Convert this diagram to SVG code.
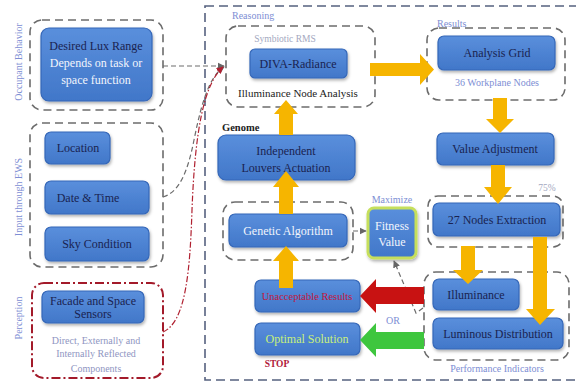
<svg xmlns="http://www.w3.org/2000/svg" width="576" height="383" viewBox="0 0 576 383">
<defs>
<linearGradient id="nodeFill" x1="0" y1="0" x2="0" y2="1">
<stop offset="0" stop-color="#5a8fdc"/>
<stop offset="1" stop-color="#4177c9"/>
</linearGradient>
<filter id="sh" x="-10%" y="-10%" width="125%" height="135%">
<feDropShadow dx="1" dy="2" stdDeviation="1.5" flood-color="#000" flood-opacity="0.3"/>
</filter>
<marker id="ah" viewBox="0 0 10 10" refX="9" refY="5" markerWidth="6" markerHeight="6" orient="auto">
<path d="M0,0 L10,5 L0,10 z" fill="#666"/>
</marker>
<marker id="ahr" viewBox="0 0 10 10" refX="9" refY="5" markerWidth="6" markerHeight="6" orient="auto">
<path d="M0,0 L10,5 L0,10 z" fill="#b02030"/>
</marker>
<style>
text{font-family:"Liberation Serif","DejaVu Serif",serif;text-anchor:middle}
.node{fill:url(#nodeFill);stroke:#3567b8;stroke-width:1.2;filter:url(#sh)}
.grp{fill:none;stroke:#6c6c6c;stroke-width:1.6;stroke-dasharray:8 5}
.red{fill:none;stroke:#a31a2a;stroke-width:2;stroke-dasharray:9 3 2 3}
.nt{fill:#1a2350;font-size:12px}
.wt{fill:#f2f5fc;font-size:12px}
.lb{fill:#7d8ed4;font-size:10px}
.gl{fill:#a3a8c0;font-size:9.5px}
.dk{fill:#222;font-size:11px}
.yel{fill:#f6b500}
.con{fill:none;stroke:#6c6c6c;stroke-width:1.2;stroke-dasharray:5 3}
</style>
</defs>
<rect width="576" height="383" fill="#ffffff"/>

<!-- outer frame -->
<rect x="205" y="6" width="390" height="374" fill="none" stroke="#56617f" stroke-width="1.6" stroke-dasharray="9 5"/>

<!-- vertical labels -->
<text class="lb" transform="translate(22,62) rotate(-90)" font-size="9.5">Occupant Behavior</text>
<text class="lb" transform="translate(22,197) rotate(-90)">Input through EWS</text>
<text class="lb" transform="translate(22,318) rotate(-90)">Perception</text>

<!-- Group: Occupant Behavior -->
<g id="occupant">
<rect class="grp" x="30" y="20" width="133" height="90" rx="12"/>
<rect class="node" x="41" y="28" width="111" height="73" rx="8"/>
<text class="nt" x="96" y="50" font-size="11.5">Desired Lux Range</text>
<text class="wt" x="96" y="67" font-size="11.5">Depends on task or</text>
<text class="wt" x="96" y="84" font-size="11.5">space function</text>
</g>

<!-- Group: Input -->
<g id="input">
<rect class="grp" x="30" y="123" width="133" height="144" rx="12"/>
<g id="location"><rect class="node" x="45" y="132" width="65" height="32" rx="6"/><text class="nt" x="78" y="152" font-size="11">Location</text></g>
<g id="datetime"><rect class="node" x="45" y="181" width="104" height="33" rx="6"/><text class="nt" x="88" y="202" font-size="11.5">Date &amp; Time</text></g>
<g id="sky"><rect class="node" x="45" y="227" width="104" height="34" rx="6"/><text class="nt" x="97" y="248" font-size="11.5">Sky Condition</text></g>
</g>

<!-- Group: Perception -->
<g id="perception">
<rect class="red" x="32" y="283" width="131" height="95" rx="12"/>
<rect class="node" x="42" y="291" width="102" height="32" rx="6"/>
<text class="nt" x="93" y="305" font-size="10.5">Facade and Space</text>
<text class="nt" x="93" y="318" font-size="10.5">Sensors</text>
<text x="96" y="344" font-size="10" fill="#8f96c2">Direct, Externally and</text>
<text x="96" y="357" font-size="10" fill="#8f96c2">Internally Reflected</text>
<text x="96" y="372" font-size="10" fill="#8f96c2">Components</text>
</g>

<!-- Reasoning -->
<text class="lb" x="232" y="19" style="text-anchor:start">Reasoning</text>
<g id="symbiotic">
<rect class="grp" x="226" y="26" width="149" height="81" rx="12"/>
<text class="gl" x="285" y="42">Symbiotic RMS</text>
<rect class="node" x="250" y="49" width="97" height="29" rx="5"/>
<text class="nt" x="298" y="68">DIVA-Radiance</text>
<text class="dk" x="298" y="97">Illuminance Node Analysis</text>
</g>

<!-- Results -->
<g id="results">
<rect class="grp" x="427" y="28" width="138" height="72" rx="12"/>
<text class="lb" x="437" y="27" font-size="9.5" style="text-anchor:start">Results</text>
<rect class="node" x="438" y="36" width="117" height="34" rx="6"/>
<text class="nt" x="497" y="57">Analysis Grid</text>
<text class="lb" x="497" y="86" font-size="11">36 Workplane Nodes</text>
</g>

<g id="value"><rect class="node" x="437" y="133" width="117" height="32" rx="6"/><text class="nt" x="495" y="153" font-size="12.5">Value Adjustment</text></g>

<text class="gl" x="547" y="191" font-size="10">75%</text>
<g id="extraction">
<rect class="grp" x="428" y="196" width="135" height="51" rx="10"/>
<rect class="node" x="433" y="203" width="127" height="33" rx="6"/>
<text class="nt" x="497" y="224" font-size="12.5">27 Nodes Extraction</text>
</g>

<g id="performance">
<rect class="grp" x="424" y="272" width="145" height="88" rx="12"/>
<rect class="node" x="433" y="279" width="86" height="31" rx="6"/>
<text class="nt" x="476" y="299">Illuminance</text>
<rect class="node" x="433" y="318" width="130" height="31" rx="6"/>
<text class="nt" x="498" y="338">Luminous Distribution</text>
<text class="lb" x="497" y="372">Performance Indicators</text>
</g>

<g id="louvers">
<text x="222" y="131" font-size="10.5" fill="#222" font-weight="bold" style="text-anchor:start">Genome</text>
<rect class="node" x="218" y="135" width="137" height="45" rx="8"/>
<text class="nt" x="286" y="155" font-size="13">Independent</text>
<text class="nt" x="286" y="172" font-size="13">Louvers Actuation</text>
</g>

<g id="genetic">
<rect class="grp" x="223" y="202" width="130" height="58" rx="12"/>
<rect class="node" x="229" y="214" width="118" height="33" rx="6"/>
<text class="wt" x="288" y="235" font-size="12.5">Genetic Algorithm</text>
</g>

<g id="fitness">
<text class="lb" x="392" y="203">Maximize</text>
<rect x="368" y="208" width="48" height="50" rx="6" fill="url(#nodeFill)" stroke="#c6df5c" stroke-width="3" filter="url(#sh)"/>
<text class="wt" x="392" y="230" font-size="11.5">Fitness</text>
<text class="wt" x="392" y="246" font-size="11.5">Value</text>
</g>

<g id="unacceptable"><rect class="node" x="255" y="280" width="105" height="32" rx="6"/><text x="307" y="300" font-size="10.5" fill="#c3183c">Unacceptable Results</text></g>
<g id="optimal"><rect class="node" x="255" y="323" width="105" height="32" rx="6"/><text x="307" y="343" font-size="12" fill="#c9f07a">Optimal Solution</text>
<text x="277" y="367" font-size="9.5" font-weight="bold" fill="#b01838">STOP</text></g>

<text class="lb" x="393" y="324">OR</text>

<!-- connectors -->
<g id="connectors">
<path class="con" d="M163,66 L224,66" marker-end="url(#ah)"/>
<path class="con" d="M163,197 C180,192 188,170 194,140 C202,100 210,76 224,67" marker-end="url(#ah)"/>
<path d="M163,332 C186,322 190,270 192,210 C195,130 204,84 223,67" fill="none" stroke="#b02030" stroke-width="1.2" stroke-dasharray="6 2 1.5 2" marker-end="url(#ahr)"/>
<path class="con" d="M353,231 L366,231" marker-end="url(#ah)"/>
<path class="con" d="M423,308 L416,313 L394,261" marker-end="url(#ah)"/>

<polygon class="yel" points="370,63 420,63 420,54 434,69.5 420,85 420,76 370,76"/>
<polygon class="yel" points="493,98 507,98 507,119 514,119 500,133 486,119 493,119"/>
<polygon class="yel" points="491,165 505,165 505,187 512,187 498,204 484,187 491,187"/>
<polygon class="yel" points="461,246 475,246 475,270 483,270 468,284 453,270 461,270"/>
<polygon class="yel" points="533,237 547,237 547,309 555,309 540,325 526,309 533,309"/>
<polygon class="yel" points="279,135 293,135 293,114 298,114 286,100 274,114 279,114"/>
<polygon class="yel" points="279,214 293,214 293,187 299,187 286,171 273,187 279,187"/>
<polygon class="yel" points="279,288 293,288 293,261 299,261 286,246 273,261 279,261"/>
<polygon fill="#c81212" points="424,287 376,287 376,279 360,296 376,313 376,304 424,304"/>
<polygon fill="#3ec63e" points="424,332 376,332 376,323 360,340 376,357 376,349 424,349"/>
</g>
</svg>
